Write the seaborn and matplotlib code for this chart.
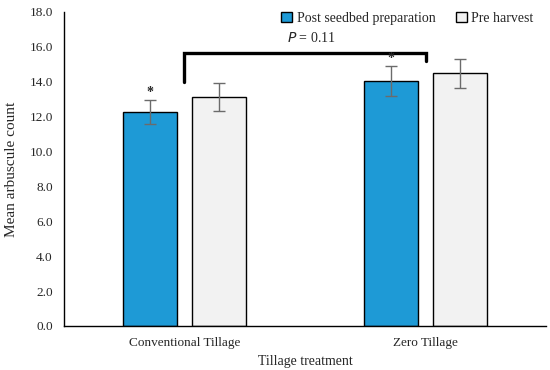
import pandas as pd
import matplotlib
matplotlib.use("Agg")
import matplotlib.pyplot as plt
import seaborn as sns

treatments = ["Conventional Tillage", "Zero Tillage"]
timings = ["Post seedbed preparation", "Pre harvest"]
post_means = [12.25, 14.02]
post_err = [0.68, 0.86]
pre_means = [13.12, 14.48]
pre_err = [0.83, 0.82]
p_label = "0.11"

df = pd.DataFrame({
    "treatment": treatments * 2,
    "timing": [timings[0]] * 2 + [timings[1]] * 2,
    "count": post_means + pre_means,
    "err": post_err + pre_err,
})

sns.set_style("white")
plt.rcParams["font.family"] = ["Liberation Serif", "DejaVu Serif"]

fig = plt.figure(figsize=(5.5, 3.7), dpi=100)
ax = fig.add_axes([0.116, 0.119, 0.877, 0.849])

sns.barplot(data=df, x="treatment", y="count", hue="timing", order=treatments,
            hue_order=timings, palette=["#1E9AD6", "#F2F2F2"], saturation=1,
            width=0.573, gap=0.218, edgecolor="black", linewidth=1.0,
            errorbar=None, ax=ax)

# error bars + significance stars on top of the bars
bars = [p for p in ax.patches if p.get_height() > 0]
for bar, (_, row) in zip(bars, df.iterrows()):
    xc = bar.get_x() + bar.get_width() / 2
    ax.errorbar(xc, row["count"], yerr=row["err"], fmt="none", ecolor="#6b6b6b",
                elinewidth=1.0, capsize=4, capthick=1.0)
    if row["timing"] == timings[0]:
        ax.text(xc, row["count"] + row["err"] + 0.05, "*", ha="center",
                va="bottom", fontsize=10, fontweight="bold")

# bracket between the two post seedbed bars
ax.plot([0, 0, 1, 1], [14.0, 15.65, 15.65, 15.2], color="black", lw=2.4,
        solid_joinstyle="miter")
ax.text(0.527, 16.1, "$P$ = " + p_label, ha="center", va="bottom", fontsize=10)

ax.set_ylim(0, 18)
ax.set_xlim(-0.5, 1.5)
ax.set_yticks([0, 2, 4, 6, 8, 10, 12, 14, 16, 18])
ax.set_yticklabels([f"{v:.1f}" for v in range(0, 19, 2)])
ax.tick_params(axis="both", length=0, labelsize=9.5, pad=8)
ax.set_xlabel("Tillage treatment", fontsize=10, labelpad=4)
ax.set_ylabel("Mean arbuscule count", fontsize=11, labelpad=8)
sns.despine(ax=ax)
for s in ["left", "bottom"]:
    ax.spines[s].set_color("black")
    ax.spines[s].set_linewidth(1.0)

ax.legend(ncol=2, frameon=False, loc="upper right", bbox_to_anchor=(1.0, 1.04),
          fontsize=10, handlelength=0.8, handleheight=0.8, handletextpad=0.3,
          columnspacing=1.5)

fig.savefig("out.png", dpi=100)
